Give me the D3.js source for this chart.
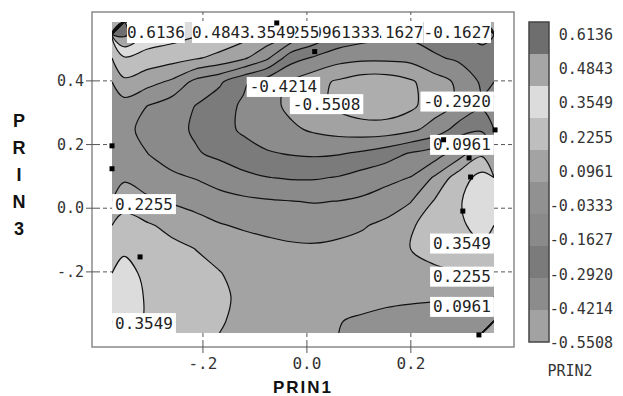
<!DOCTYPE html>
<html>
<head>
<meta charset="utf-8">
<script src="https://cdnjs.cloudflare.com/ajax/libs/d3/7.8.5/d3.min.js"></script>
<style>
  html, body { margin: 0; padding: 0; background: #fff; }
  svg { display: block; }
</style>
</head>
<body>
<div id="chart"></div>
<script>
// contour levels of PRIN2 (legend values)
const levels = [-0.5508, -0.4214, -0.2920, -0.1627, -0.0333, 0.0961, 0.2255, 0.3549, 0.4843, 0.6136];

// PRIN2 estimated on a regular grid, rows from top (high PRIN3) to bottom
const prin1Extent = [-0.375, 0.360];
const prin3Extent = [-0.392, 0.585];
const prin2Grid = [
  [0.65, 0.44, 0.41, 0.37, 0.33, 0.28, 0.20, 0.09, -0.05, -0.18, -0.23, -0.26, -0.26, -0.23, -0.19, -0.14],
  [0.34, 0.305, 0.275, 0.24, 0.19, 0.12, -0.01, -0.24, -0.31, -0.37, -0.39, -0.39, -0.38, -0.31, -0.27, -0.19],
  [0.20, 0.14, 0.075, -0.07, -0.14, -0.27, -0.36, -0.44, -0.51, -0.57, -0.62, -0.62, -0.57, -0.48, -0.40, -0.27],
  [0.04, -0.035, -0.10, -0.165, -0.24, -0.31, -0.38, -0.45, -0.51, -0.58, -0.63, -0.63, -0.58, -0.48, -0.40, -0.31],
  [-0.01, -0.06, -0.12, -0.18, -0.25, -0.31, -0.36, -0.40, -0.44, -0.47, -0.49, -0.49, -0.45, -0.37, -0.24, -0.20],
  [0.03, -0.033, -0.09, -0.15, -0.19, -0.24, -0.28, -0.30, -0.31, -0.30, -0.27, -0.22, -0.15, -0.10, 0.03, 0.20],
  [0.08, 0.03, -0.01, -0.04, -0.09, -0.13, -0.16, -0.175, -0.175, -0.155, -0.11, -0.07, -0.03, 0.11, 0.29, 0.40],
  [0.16, 0.12, 0.085, 0.05, 0.02, -0.005, -0.02, -0.03, -0.04, -0.03, -0.01, 0.03, 0.09, 0.235, 0.34, 0.43],
  [0.30, 0.24, 0.19, 0.15, 0.105, 0.08, 0.065, 0.055, 0.055, 0.065, 0.085, 0.125, 0.21, 0.28, 0.33, 0.40],
  [0.34, 0.30, 0.26, 0.225, 0.19, 0.155, 0.13, 0.115, 0.11, 0.12, 0.14, 0.18, 0.225, 0.27, 0.30, 0.33],
  [0.39, 0.33, 0.29, 0.25, 0.23, 0.19, 0.165, 0.15, 0.145, 0.145, 0.155, 0.17, 0.185, 0.20, 0.215, 0.23],
  [0.42, 0.34, 0.31, 0.28, 0.24, 0.21, 0.18, 0.165, 0.155, 0.145, 0.135, 0.12, 0.115, 0.11, 0.105, 0.11],
  [0.43, 0.33, 0.30, 0.265, 0.235, 0.20, 0.17, 0.14, 0.115, 0.10, 0.08, 0.065, 0.05, 0.04, 0.035, 0.03]
];

// observations (PRIN1, PRIN3)
const obsPrin1 = [-0.058, 0.015, -0.375, -0.375, 0.362, 0.263, 0.312, 0.315, 0.300, -0.321, 0.331];
const obsPrin3 = [0.582, 0.492, 0.196, 0.124, 0.246, 0.215, 0.158, 0.098, -0.009, -0.153, -0.398];

const xTicks = [-0.2, 0.0, 0.2];
const xTickLabels = ['-.2', '0.0', '0.2'];
const yTicks = [0.4, 0.2, 0.0, -0.2];
const yTickLabels = ['0.4', '0.2', '0.0', '-.2'];

// contour line labels as placed by the plot: text anchor point (PRIN1) and box centre (PRIN3)
const contourLabels = [
  { level: -0.1627, prin1: 0.3542, prin3: 0.552, anchor: 'end', top: true },
  { level: -0.1627, prin1: 0.0945, prin3: 0.552, anchor: 'start', top: true },
  { level: -0.0333, prin1: 0.0108, prin3: 0.552, anchor: 'start', top: true },
  { level: 0.0961, prin1: -0.0267, prin3: 0.552, anchor: 'start', top: true },
  { level: 0.2255, prin1: -0.0874, prin3: 0.552, anchor: 'start', top: true },
  { level: 0.3549, prin1: -0.1335, prin3: 0.552, anchor: 'start', top: true },
  { level: 0.4843, prin1: -0.2211, prin3: 0.552, anchor: 'start', top: true },
  { level: 0.6136, prin1: -0.3461, prin3: 0.552, anchor: 'start', top: true },
  { level: -0.2920, prin1: 0.354, prin3: 0.335, anchor: 'end' },
  { level: 0.0961, prin1: 0.354, prin3: 0.199, anchor: 'end' },
  { level: 0.3549, prin1: 0.354, prin3: -0.111, anchor: 'end' },
  { level: 0.2255, prin1: 0.354, prin3: -0.215, anchor: 'end' },
  { level: 0.0961, prin1: 0.354, prin3: -0.310, anchor: 'end' },
  { level: 0.2255, prin1: -0.369, prin3: 0.013, anchor: 'start' },
  { level: 0.3549, prin1: -0.369, prin3: -0.361, anchor: 'start' },
  { level: -0.4214, prin1: -0.110, prin3: 0.381, anchor: 'start' },
  { level: -0.5508, prin1: -0.027, prin3: 0.327, anchor: 'start' }
];

// fill for region >= level[i]; belowColor is under the lowest level
const belowColor = '#adadad';
const bandColors = ['#a2a2a2', '#8c8c8c', '#7b7b7b', '#8a8a8a', '#919191', '#a3a3a3', '#bebebe', '#dcdcdc', '#a6a6a6', '#6e6e6e'];

const width = 623, height = 396;
const frame = { l: 92, t: 12, r: 514, b: 347 };
const plot = { l: 112, t: 22, r: 494, b: 333 };
const mono = "'DejaVu Sans Mono', 'Liberation Mono', monospace";
const sans = "'Liberation Sans', Arial, sans-serif";
const fmt = (v) => v.toFixed(4);

const svg = d3.select('#chart').append('svg')
  .attr('width', width)
  .attr('height', height)
  .attr('viewBox', [0, 0, width, height]);

const x = d3.scaleLinear().domain(prin1Extent).range([plot.l, plot.r]);
const y = d3.scaleLinear().domain(prin3Extent).range([plot.b, plot.t]);

const nx = prin2Grid[0].length, ny = prin2Grid.length;
const gx = d3.scaleLinear().domain([0, nx]).range(prin1Extent);
const gy = d3.scaleLinear().domain([0, ny]).range([prin3Extent[1], prin3Extent[0]]);
const toPx = (p) => [x(gx(p[0])), y(gy(p[1]))];

// frame
svg.append('rect')
  .attr('x', frame.l).attr('y', frame.t)
  .attr('width', frame.r - frame.l).attr('height', frame.b - frame.t)
  .attr('fill', '#fff').attr('stroke', '#8a8a8a').attr('stroke-width', 1.5);

svg.append('clipPath').attr('id', 'plot-clip')
  .append('rect')
  .attr('x', plot.l).attr('y', plot.t)
  .attr('width', plot.r - plot.l).attr('height', plot.b - plot.t);

const body = svg.append('g').attr('clip-path', 'url(#plot-clip)');

const contours = d3.contours().size([nx, ny]).thresholds(levels)(prin2Grid.flat());

const closedCurve = d3.line().curve(d3.curveCatmullRomClosed.alpha(0.5));
const openCurve = d3.line().curve(d3.curveCatmullRom.alpha(0.5));

body.append('rect')
  .attr('x', plot.l).attr('y', plot.t)
  .attr('width', plot.r - plot.l).attr('height', plot.b - plot.t)
  .attr('fill', belowColor);

body.append('g')
  .selectAll('path')
  .data(contours)
  .join('path')
  .attr('fill', (d, i) => bandColors[i])
  .attr('fill-rule', 'evenodd')
  .attr('d', (d) => d.coordinates
    .flatMap((poly) => poly.map((ring) => closedCurve(ring.slice(0, -1).map(toPx))))
    .join(''));

// split each ring into the parts that are not on the grid border
const eps = 1e-6;
function onBorder(p, q) {
  return (p[0] <= eps && q[0] <= eps) || (p[0] >= nx - eps && q[0] >= nx - eps) ||
    (p[1] <= eps && q[1] <= eps) || (p[1] >= ny - eps && q[1] >= ny - eps);
}
function ringLines(ring) {
  const pts = ring.slice(0, -1);
  const n = pts.length;
  let start = -1;
  for (let i = 0; i < n; i++) {
    if (onBorder(pts[i], pts[(i + 1) % n])) { start = (i + 1) % n; break; }
  }
  if (start < 0) return [{ closed: true, pts }];
  const lines = [];
  let cur = [];
  for (let k = 0; k < n; k++) {
    const i = (start + k) % n, j = (i + 1) % n;
    if (onBorder(pts[i], pts[j])) {
      if (cur.length > 1) lines.push(cur);
      cur = [];
    } else {
      if (!cur.length) cur.push(pts[i]);
      cur.push(pts[j]);
    }
  }
  if (cur.length > 1) lines.push(cur);
  return lines.map((l) => ({ closed: false, pts: l }));
}

const isoLines = contours.flatMap((c) => c.coordinates.flatMap((poly) => poly.flatMap(ringLines)));

body.append('g')
  .attr('fill', 'none')
  .attr('stroke', '#111')
  .attr('stroke-width', 1.2)
  .selectAll('path')
  .data(isoLines)
  .join('path')
  .attr('d', (d) => d.closed ? closedCurve(d.pts.map(toPx)) : openCurve(d.pts.map(toPx)));

// axis ticks: dashed guides between frame and plot, short solid marks across frame
const tickG = svg.append('g').attr('stroke', '#555').attr('stroke-width', 1);
yTicks.forEach((t) => {
  tickG.append('line').attr('x1', frame.l - 6).attr('x2', frame.l + 4)
    .attr('y1', y(t)).attr('y2', y(t));
  tickG.append('line').attr('x1', frame.l + 4).attr('x2', plot.l)
    .attr('y1', y(t)).attr('y2', y(t)).attr('stroke-dasharray', '4,3');
  tickG.append('line').attr('x1', plot.r).attr('x2', frame.r)
    .attr('y1', y(t)).attr('y2', y(t)).attr('stroke-dasharray', '4,3');
});
xTicks.forEach((t) => {
  tickG.append('line').attr('x1', x(t)).attr('x2', x(t))
    .attr('y1', frame.b - 4).attr('y2', frame.b + 6);
  tickG.append('line').attr('x1', x(t)).attr('x2', x(t))
    .attr('y1', plot.b).attr('y2', frame.b - 4).attr('stroke-dasharray', '4,3');
  tickG.append('line').attr('x1', x(t)).attr('x2', x(t))
    .attr('y1', frame.t).attr('y2', plot.t).attr('stroke-dasharray', '3,3');
});

svg.append('g')
  .selectAll('text')
  .data(yTicks)
  .join('text')
  .attr('x', frame.l - 8)
  .attr('y', (d) => y(d) + 5)
  .attr('text-anchor', 'end')
  .attr('font-family', mono).attr('font-size', 15).attr('fill', '#333')
  .text((d, i) => yTickLabels[i]);

svg.append('g')
  .selectAll('text')
  .data(xTicks)
  .join('text')
  .attr('x', (d) => x(d))
  .attr('y', 369)
  .attr('text-anchor', 'middle')
  .attr('font-family', mono).attr('font-size', 16).attr('fill', '#333')
  .text((d, i) => xTickLabels[i]);

// contour labels with white boxes (drawn in list order, later ones on top)
const labelG = svg.append('g');
contourLabels.forEach((d) => {
  const g = labelG.append('g');
  const box = g.append('rect').attr('fill', '#fff');
  const t = g.append('text')
    .attr('font-family', mono).attr('font-size', 16).attr('fill', '#222')
    .text(fmt(d.level));
  const w = t.node().getComputedTextLength();
  const ax = x(d.prin1);
  let tx = ax - w / 2;
  if (d.anchor === 'start') tx = ax;
  if (d.anchor === 'end') tx = ax - w;
  const cy = y(d.prin3);
  const h = d.top ? 21 : 20;
  const pad = d.top ? 0 : 3;
  box.attr('x', tx - pad).attr('y', cy - h / 2).attr('width', w + 2 * pad).attr('height', h);
  t.attr('x', tx).attr('y', cy + 5.5);
});

// observations
svg.append('g')
  .selectAll('rect')
  .data(obsPrin1)
  .join('rect')
  .attr('x', (d) => x(d) - 2.5)
  .attr('y', (d, i) => y(obsPrin3[i]) - 2.5)
  .attr('width', 5).attr('height', 5)
  .attr('fill', '#000');

// axis titles
svg.append('text')
  .attr('x', (plot.l + plot.r) / 2).attr('y', 393)
  .attr('text-anchor', 'middle')
  .attr('font-family', sans)
  .attr('font-weight', 'bold').attr('font-size', 17)
  .attr('letter-spacing', 2)
  .attr('fill', '#111')
  .text('PRIN1');

svg.append('g')
  .selectAll('text')
  .data('PRIN3'.split(''))
  .join('text')
  .attr('x', 19)
  .attr('y', (d, i) => 127 + i * 27)
  .attr('text-anchor', 'middle')
  .attr('font-family', sans)
  .attr('font-weight', 'bold').attr('font-size', 18)
  .attr('fill', '#111')
  .text((d) => d);

// legend
const legendLevels = levels.slice().reverse();
const legend = { x: 529, w: 20, t: 22, b: 342 };
const legendBand = d3.scaleBand().domain(legendLevels).range([legend.t, legend.b]);
const legendG = svg.append('g');
legendG.selectAll('rect')
  .data(legendLevels)
  .join('rect')
  .attr('x', legend.x).attr('y', (d) => legendBand(d))
  .attr('width', legend.w).attr('height', legendBand.bandwidth())
  .attr('fill', (d) => bandColors[levels.indexOf(d)]);
legendG.append('rect')
  .attr('x', legend.x).attr('y', legend.t)
  .attr('width', legend.w).attr('height', legend.b - legend.t)
  .attr('fill', 'none').attr('stroke', '#444').attr('stroke-width', 1.5);

const legendLabelY = d3.scalePoint().domain(legendLevels).range([40, 348]);
legendG.selectAll('text')
  .data(legendLevels)
  .join('text')
  .attr('x', 613)
  .attr('y', (d) => legendLabelY(d))
  .attr('text-anchor', 'end')
  .attr('font-family', mono).attr('font-size', 15).attr('fill', '#333')
  .text(fmt);

legendG.append('text')
  .attr('x', 570).attr('y', 376)
  .attr('text-anchor', 'middle')
  .attr('font-family', mono).attr('font-size', 15).attr('fill', '#333')
  .text('PRIN2');
</script>
</body>
</html>
